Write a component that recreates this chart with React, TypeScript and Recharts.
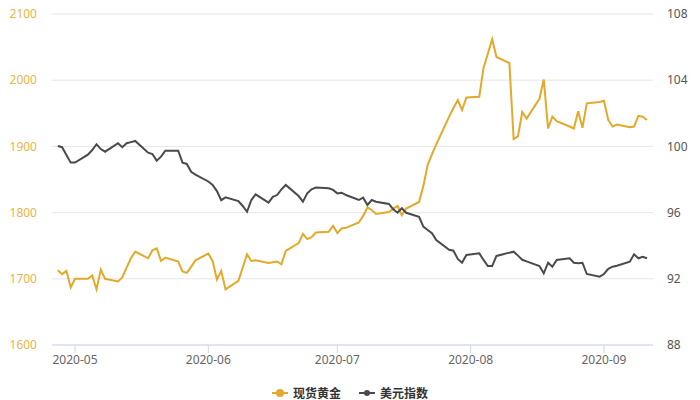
import React from 'react';
import { LineChart, Line, XAxis, YAxis, CartesianGrid, Legend } from 'recharts';

const dates: string[] = [
  '2020-04-27','2020-04-28','2020-04-29','2020-04-30',
  '2020-05-01','2020-05-04','2020-05-05','2020-05-06','2020-05-07','2020-05-08','2020-05-11','2020-05-12','2020-05-13','2020-05-14','2020-05-15','2020-05-18','2020-05-19','2020-05-20','2020-05-21','2020-05-22','2020-05-25','2020-05-26','2020-05-27','2020-05-28','2020-05-29',
  '2020-06-01','2020-06-02','2020-06-03','2020-06-04','2020-06-05','2020-06-08','2020-06-09','2020-06-10','2020-06-11','2020-06-12','2020-06-15','2020-06-16','2020-06-17','2020-06-18','2020-06-19','2020-06-22','2020-06-23','2020-06-24','2020-06-25','2020-06-26','2020-06-29','2020-06-30',
  '2020-07-01','2020-07-02','2020-07-03','2020-07-06','2020-07-07','2020-07-08','2020-07-09','2020-07-10','2020-07-13','2020-07-14','2020-07-15','2020-07-16','2020-07-17','2020-07-20','2020-07-21','2020-07-22','2020-07-23','2020-07-24','2020-07-27','2020-07-28','2020-07-29','2020-07-30','2020-07-31',
  '2020-08-03','2020-08-04','2020-08-05','2020-08-06','2020-08-07','2020-08-10','2020-08-11','2020-08-12','2020-08-13','2020-08-14','2020-08-17','2020-08-18','2020-08-19','2020-08-20','2020-08-21','2020-08-24','2020-08-25','2020-08-26','2020-08-27','2020-08-28','2020-08-31',
  '2020-09-01','2020-09-02','2020-09-03','2020-09-04','2020-09-07','2020-09-08','2020-09-09','2020-09-10','2020-09-11',
];

const goldSpot: number[] = [
  1713,1707,1712,1687,
  1700,1700,1705,1684,1714,1700,1696,1702,1717,1731,1741,1731,1743,1746,1727,1732,1726,1711,1709,1718,1728,
  1738,1727,1699,1712,1684,1697,1717,1737,1727,1728,1724,1725,1726,1722,1742,1754,1768,1760,1763,1770,1771,1780,
  1769,1776,1777,1785,1795,1808,1804,1798,1801,1806,1810,1796,1806,1816,1840,1872,1888,1903,1945,1958,1970,1955,1974,
  1975,2019,2040,2062,2035,2026,1911,1915,1952,1942,1972,2001,1927,1945,1938,1930,1927,1953,1928,1965,1967,
  1969,1940,1930,1933,1929,1930,1946,1945,1940,
];

const dollarIndex: number[] = [
  100.02,99.95,99.48,99.02,
  99.02,99.5,99.78,100.13,99.84,99.68,100.19,99.95,100.19,100.26,100.33,99.62,99.54,99.14,99.38,99.74,99.74,99.02,98.94,98.47,98.3,
  97.88,97.67,97.3,96.75,96.92,96.7,96.4,96.05,96.76,97.1,96.6,96.95,97.06,97.4,97.67,97.0,96.66,97.16,97.41,97.51,97.47,97.37,
  97.16,97.2,97.06,96.76,96.9,96.46,96.76,96.66,96.52,96.2,95.99,96.26,95.99,95.75,95.15,94.95,94.75,94.34,93.75,93.7,93.2,92.97,93.44,
  93.54,93.14,92.77,92.77,93.38,93.58,93.64,93.4,93.15,93.05,92.77,92.33,92.97,92.73,93.14,93.24,92.97,92.94,92.97,92.29,92.13,
  92.29,92.6,92.73,92.79,93.03,93.48,93.24,93.33,93.24,
];

const monthTicks: string[] = ['2020-05-01', '2020-06-01', '2020-07-01', '2020-08-01', '2020-09-01'];
const monthLabels: string[] = ['2020-05', '2020-06', '2020-07', '2020-08', '2020-09'];
const goldTicks: number[] = [1600, 1700, 1800, 1900, 2000, 2100];
const dollarTicks: number[] = [88, 92, 96, 100, 104, 108];

const seriesNames = { gold: '现货黄金', dollar: '美元指数' };

const BASE = Date.UTC(2020, 4, 1);
const dayOf = (s: string) => (Date.parse(s + 'T00:00:00Z') - BASE) / 86400000;

const data = dates.map((d, i) => ({ day: dayOf(d), gold: goldSpot[i], dollar: dollarIndex[i] }));
const tickDays = monthTicks.map(dayOf);

const GOLD = '#E2A92A';
const DARK = '#4A4A4A';
const FONT = '"Noto Sans", "Noto Sans CJK SC", sans-serif';

const LegendContent = () => (
  <div style={{ display: 'flex', justifyContent: 'center', alignItems: 'center', paddingTop: 14, fontFamily: '"Noto Sans CJK SC", sans-serif', fontSize: 12, fontWeight: 'bold', color: '#333' }}>
    <span style={{ display: 'flex', alignItems: 'center', marginRight: 18 }}>
      <svg width={16} height={10} style={{ marginRight: 5 }}>
        <line x1={0} y1={5} x2={16} y2={5} stroke={GOLD} strokeWidth={2} />
        <circle cx={8} cy={5} r={4} fill={GOLD} />
      </svg>
      {seriesNames.gold}
    </span>
    <span style={{ display: 'flex', alignItems: 'center' }}>
      <svg width={16} height={10} style={{ marginRight: 5 }}>
        <line x1={0} y1={5} x2={16} y2={5} stroke={DARK} strokeWidth={2} />
        <circle cx={8} cy={5} r={3} fill={DARK} />
      </svg>
      {seriesNames.dollar}
    </span>
  </div>
);

export default function App() {
  return (
    <div style={{ position: 'absolute', left: 0, top: 0, width: 700, height: 400, background: '#fff' }}>
      <LineChart width={700} height={400} data={data} margin={{ top: 14, right: 0, left: 0, bottom: 0 }}>
        <CartesianGrid yAxisId="left" vertical={false} stroke="#e6e6e6" />
        <XAxis
          dataKey="day"
          type="number"
          domain={[-5.35, 134.4]}
          ticks={tickDays}
          tickFormatter={(v: number) => monthLabels[tickDays.indexOf(v)] ?? ''}
          height={25}
          axisLine={{ stroke: '#ccd6eb' }}
          tickLine={{ stroke: '#ccd6eb' }}
          tickSize={8}
          tickMargin={2}
          tick={{ fill: '#666', fontSize: 12, fontFamily: FONT }}
          allowDataOverflow
        />
        <YAxis
          yAxisId="left"
          orientation="left"
          domain={[1600, 2100]}
          ticks={goldTicks}
          width={52}
          axisLine={false}
          tickLine={false}
          tickMargin={9}
          tick={{ fill: '#E8B547', fontSize: 12, fontFamily: FONT }}
        />
        <YAxis
          yAxisId="right"
          orientation="right"
          domain={[88, 108]}
          ticks={dollarTicks}
          width={47}
          axisLine={false}
          tickLine={false}
          tickMargin={8}
          tick={{ fill: '#555', fontSize: 12, fontFamily: FONT }}
        />
        <Legend verticalAlign="bottom" height={30} content={<LegendContent />} />
        <Line yAxisId="left" type="linear" dataKey="gold" name={seriesNames.gold} stroke={GOLD} strokeWidth={2} dot={false} isAnimationActive={false} />
        <Line yAxisId="right" type="linear" dataKey="dollar" name={seriesNames.dollar} stroke={DARK} strokeWidth={2} dot={false} isAnimationActive={false} />
      </LineChart>
    </div>
  );
}
